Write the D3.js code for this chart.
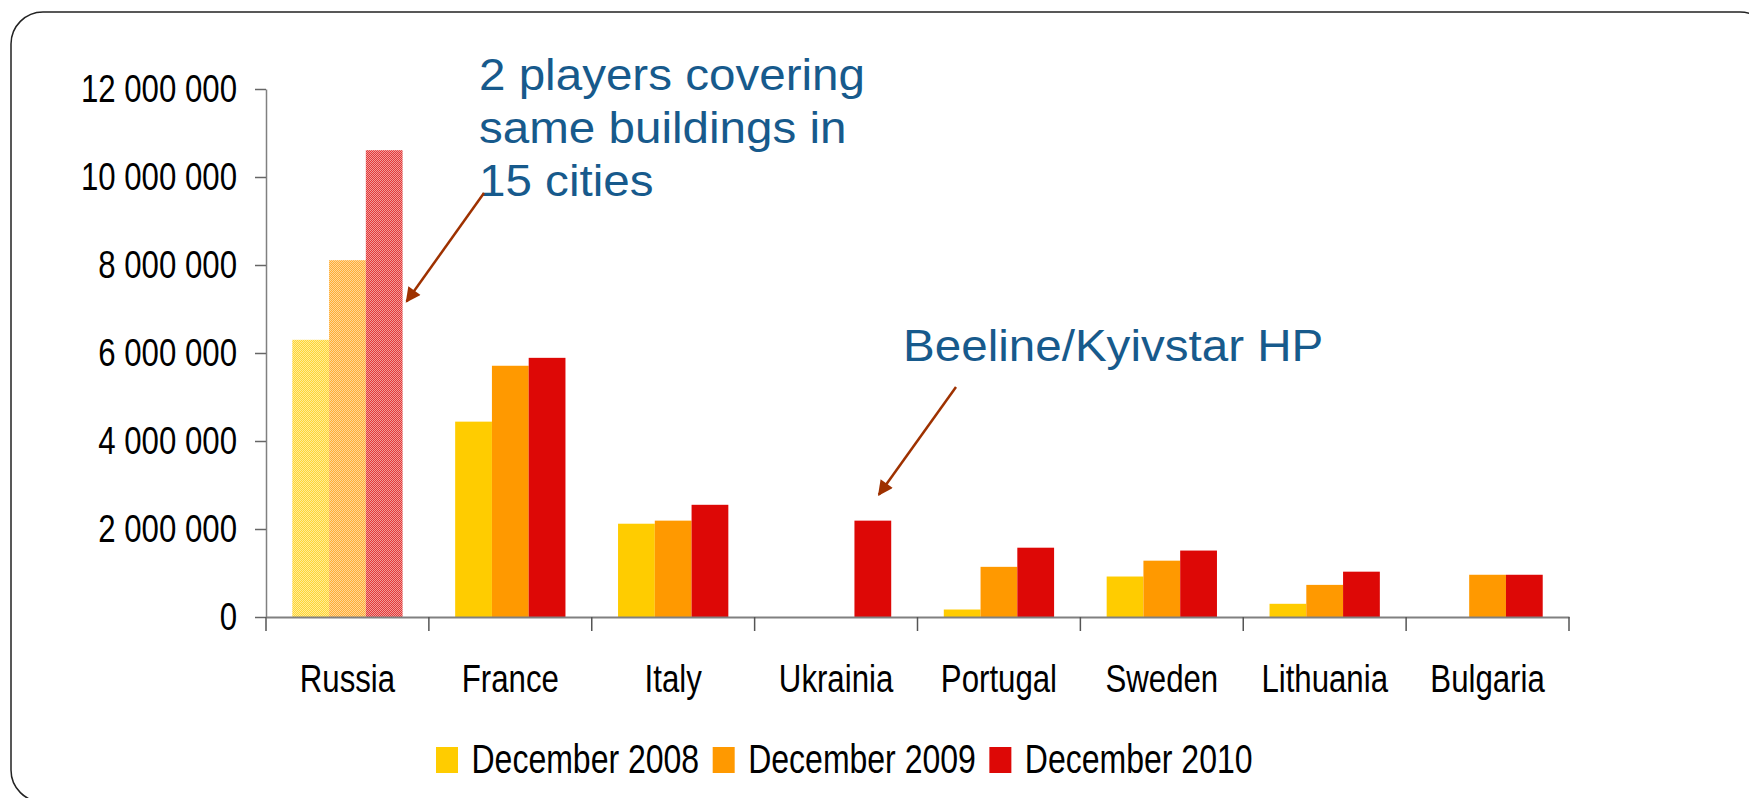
<!DOCTYPE html>
<html>
<head>
<meta charset="utf-8">
<script src="https://cdn.jsdelivr.net/npm/d3@7"></script>
<style>
  body { margin: 0; background: #fff; }
  svg { display: block; font-family: "Liberation Sans", Arial, sans-serif; }
</style>
</head>
<body>
<svg id="chart"></svg>
<script>
// data
const categories = ["Russia", "France", "Italy", "Ukrainia", "Portugal", "Sweden", "Lithuania", "Bulgaria"];
const seriesNames = ["December 2008", "December 2009", "December 2010"];
const dec2008 = [6300000, 4440000, 2120000, null, 170000, 920000, 300000, null];
const dec2009 = [8110000, 5710000, 2190000, null, 1140000, 1280000, 730000, 960000];
const dec2010 = [10610000, 5890000, 2550000, 2190000, 1575000, 1510000, 1030000, 960000];
const yTicks = [0, 2000000, 4000000, 6000000, 8000000, 10000000, 12000000];
const seriesColors = ["#FFCC00", "#FF9900", "#DD0806"];
const patternedCats = ["Russia"];

const seriesValues = [dec2008, dec2009, dec2010];

const W = 1749, H = 798;
const margin = { top: 89, left: 266, right: 180, bottom: 181 };
const innerW = W - margin.left - margin.right;
const innerH = H - margin.top - margin.bottom;
const SX = 0.8; // chart text in the slide is squeezed horizontally

const svg = d3.select("#chart").attr("width", W).attr("height", H);

// frame of the slide
svg.append("rect")
  .attr("x", 11).attr("y", 12)
  .attr("width", 1761).attr("height", 790)
  .attr("rx", 32)
  .attr("fill", "none").attr("stroke", "#222").attr("stroke-width", 1.5);

const defs = svg.append("defs");

// checkered fills for the Russia bars
seriesColors.forEach((c, i) => {
  const p = defs.append("pattern")
    .attr("id", "pat" + i)
    .attr("width", 2).attr("height", 2)
    .attr("patternUnits", "userSpaceOnUse");
  const dark = d3.interpolateRgb(c, "#fff")(0.2);
  const light = d3.interpolateRgb(c, "#fff")(0.6);
  p.append("rect").attr("width", 2).attr("height", 2).attr("fill", light);
  p.append("rect").attr("width", 1).attr("height", 1).attr("fill", dark);
  p.append("rect").attr("x", 1).attr("y", 1).attr("width", 1).attr("height", 1).attr("fill", dark);
});

defs.append("marker")
  .attr("id", "arrow")
  .attr("viewBox", "0 0 10 10")
  .attr("refX", 9).attr("refY", 5)
  .attr("markerWidth", 18).attr("markerHeight", 15)
  .attr("markerUnits", "userSpaceOnUse")
  .attr("orient", "auto")
  .append("path")
  .attr("d", "M0,0 L10,5 L0,10 z")
  .attr("fill", "#9E3100");

const chart = svg.append("g")
  .attr("transform", `translate(${margin.left},${margin.top})`);

// scales
const x = d3.scaleBand()
  .domain(categories)
  .range([0, innerW])
  .padding(0);

const x1 = d3.scaleBand()
  .domain(seriesNames)
  .range([0, x.bandwidth()])
  .paddingInner(0)
  .paddingOuter(0.715);

const y = d3.scaleLinear()
  .domain([0, 12000000])
  .range([innerH, 0]);

// bars
const groups = chart.selectAll(".grp")
  .data(categories)
  .enter()
  .append("g")
  .attr("class", "grp")
  .attr("transform", d => `translate(${x(d)},0)`);

groups.selectAll("rect")
  .data((cat, ci) => seriesNames.map((s, si) => ({ cat: cat, s: s, si: si, v: seriesValues[si][ci] }))
    .filter(d => d.v != null))
  .enter()
  .append("rect")
  .attr("x", d => x1(d.s))
  .attr("width", x1.bandwidth())
  .attr("y", d => y(d.v))
  .attr("height", d => y(0) - y(d.v))
  .attr("fill", d => patternedCats.includes(d.cat) ? `url(#pat${d.si})` : seriesColors[d.si]);

// y axis
const fmt = v => d3.format(",")(v).replace(/,/g, " ");
const yAxis = d3.axisLeft(y).tickValues(yTicks).tickFormat(fmt).tickSize(11).tickSizeOuter(0).tickPadding(18);
const yAxisGroup = chart.append("g").attr("class", "axis y-axis").call(yAxis);
yAxisGroup.select(".domain").attr("stroke", "#808080").attr("stroke-width", 1.5);
yAxisGroup.selectAll(".tick line").attr("stroke", "#666").attr("stroke-width", 1.5);
yAxisGroup.selectAll("text")
  .attr("font-size", 39)
  .attr("fill", "#000")
  .each(function () {
    const t = d3.select(this);
    const tx = +t.attr("x");
    t.attr("x", 0).attr("transform", `translate(${tx},0) scale(${SX},1)`);
  });

// x axis: labels centred, ticks on category boundaries
const xAxis = d3.axisBottom(x).tickSize(0).tickSizeOuter(0);
const xAxisGroup = chart.append("g")
  .attr("class", "axis x-axis")
  .attr("transform", `translate(0,${innerH})`)
  .call(xAxis);
xAxisGroup.select(".domain").attr("stroke", "#808080").attr("stroke-width", 2);
xAxisGroup.selectAll("text")
  .attr("font-size", 39)
  .attr("fill", "#000")
  .attr("y", 0).attr("dy", null)
  .attr("transform", `translate(0,75) scale(${SX},1)`);

xAxisGroup.selectAll(".bound")
  .data(categories.concat([null]))
  .enter()
  .append("line")
  .attr("class", "bound")
  .attr("x1", (d, i) => i * x.step())
  .attr("x2", (d, i) => i * x.step())
  .attr("y1", 0).attr("y2", 14)
  .attr("stroke", "#555").attr("stroke-width", 1.5);

// legend
const legend = svg.append("g").attr("class", "legend");
let lx = 436;
seriesNames.forEach((s, i) => {
  legend.append("rect")
    .attr("x", lx).attr("y", 747)
    .attr("width", 22).attr("height", 26)
    .attr("fill", seriesColors[i]);
  lx += 22 + 13.5;
  const t = legend.append("text")
    .attr("transform", `translate(${lx},773) scale(${SX},1)`)
    .attr("font-size", 40)
    .attr("fill", "#000")
    .text(s);
  lx += t.node().getComputedTextLength() * SX + 13.5;
});

// annotations
const annotations = [
  { lines: ["2 players covering", "same buildings in", "15 cities"], tx: 479, ty: 90,
    from: [484, 193], cat: "Russia", s: "December 2010", at: 7170000, dx: x1.bandwidth() + 4 },
  { lines: ["Beeline/Kyivstar HP"], tx: 903, ty: 361,
    from: [956, 387], cat: "Ukrainia", s: "December 2010", at: 2780000, dx: x1.bandwidth() / 2 + 6 }
];

annotations.forEach(a => {
  const t = svg.append("text")
    .attr("transform", `translate(${a.tx},${a.ty}) scale(1.057,1)`)
    .attr("font-size", 45)
    .attr("fill", "#175A8C");
  a.lines.forEach((l, i) => {
    t.append("tspan").attr("x", 0).attr("y", i * 53).text(l);
  });

  const bx = margin.left + x(a.cat) + x1(a.s) + a.dx;
  const by = margin.top + y(a.at);
  svg.append("line")
    .attr("x1", a.from[0]).attr("y1", a.from[1])
    .attr("x2", bx).attr("y2", by)
    .attr("stroke", "#9E3100").attr("stroke-width", 2.5)
    .attr("marker-end", "url(#arrow)");
});
</script>
</body>
</html>
